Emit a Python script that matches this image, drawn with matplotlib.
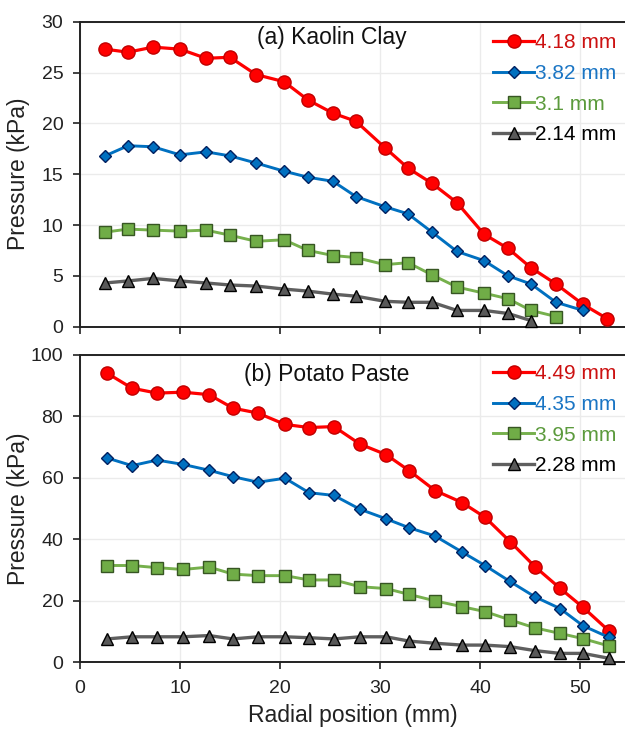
import matplotlib
matplotlib.use("Agg")
import matplotlib.pyplot as plt

plt.rcParams['font.family'] = ['Liberation Sans', 'DejaVu Sans']

# ---- (a) Kaolin clay ----
x_a = [2.5, 4.8, 7.3, 10.0, 12.6, 15.0, 17.6, 20.4, 22.8, 25.3, 27.6,
       30.5, 32.8, 35.2, 37.7, 40.4, 42.8, 45.1, 47.6, 50.3, 52.7]
kaolin_418 = [27.3, 27.0, 27.5, 27.3, 26.4, 26.5, 24.8, 24.1, 22.3, 21.0, 20.2,
              17.6, 15.6, 14.1, 12.2, 9.1, 7.7, 5.8, 4.2, 2.2, 0.8]
kaolin_382 = [16.8, 17.8, 17.7, 16.9, 17.2, 16.8, 16.1, 15.3, 14.7, 14.3, 12.8,
              11.8, 11.1, 9.3, 7.4, 6.5, 5.0, 4.2, 2.4, 1.6]
kaolin_310 = [9.3, 9.6, 9.5, 9.4, 9.5, 9.0, 8.4, 8.55, 7.5, 7.0, 6.8,
              6.1, 6.3, 5.1, 3.9, 3.3, 2.75, 1.6, 1.0]
kaolin_214 = [4.3, 4.5, 4.75, 4.5, 4.3, 4.1, 4.0, 3.7, 3.5, 3.2, 3.0,
              2.5, 2.4, 2.4, 1.6, 1.6, 1.3, 0.6]
labels_a = ['4.18 mm', '3.82 mm', '3.1 mm', '2.14 mm']

# ---- (b) Potato paste ----
x_b = [2.7, 5.2, 7.7, 10.3, 12.9, 15.3, 17.8, 20.5, 22.9, 25.4, 28.0,
       30.6, 32.9, 35.5, 38.2, 40.5, 43.0, 45.5, 48.0, 50.3, 52.9]
potato_449 = [94.1, 89.2, 87.6, 87.9, 87.1, 82.7, 81.1, 77.4, 76.4, 76.7, 71.0,
              67.6, 62.4, 55.9, 52.0, 47.2, 39.3, 31.1, 24.1, 17.9, 10.2]
potato_435 = [66.5, 64.0, 65.8, 64.4, 62.5, 60.4, 58.6, 59.9, 55.2, 54.3, 49.8,
              46.7, 43.8, 41.1, 35.9, 31.5, 26.3, 21.3, 17.5, 11.9, 8.1]
potato_395 = [31.5, 31.5, 30.8, 30.2, 31.0, 28.7, 28.2, 28.2, 26.8, 26.8, 24.6,
              24.0, 22.1, 20.0, 18.1, 16.5, 13.8, 11.2, 9.4, 7.7, 5.3]
potato_228 = [7.6, 8.3, 8.3, 8.3, 8.7, 7.6, 8.3, 8.3, 8.0, 7.6, 8.3,
              8.3, 6.9, 6.2, 5.6, 5.6, 5.1, 3.8, 2.9, 2.9, 1.3]
labels_b = ['4.49 mm', '4.35 mm', '3.95 mm', '2.28 mm']

# line colour, marker, size, face, edge, lw, legend text colour
styles = [
    ('#ff0000', 'o', 9.5, '#ff0000', '#c00000', 2.3, '#cc1111'),
    ('#0070c0', 'D', 6.3, '#0070c0', '#002060', 2.1, '#1a75c4'),
    ('#76b04c', 's', 8.5, '#70ad47', '#375623', 2.1, '#5b9a3c'),
    ('#5f5f5f', '^', 9.0, '#595959', '#000000', 2.4, '#000000'),
]

W, H = 625, 732
fig = plt.figure(figsize=(W / 100, H / 100), dpi=100)


def px_axes(left, top, right, bottom):
    return fig.add_axes([left / W, 1 - bottom / H, (right - left) / W, (bottom - top) / H])


def setup(ax, ymax, ystep, show_xlabels):
    ax.set_xlim(0, 54.5)
    ax.set_ylim(0, ymax)
    ax.set_xticks(range(0, 60, 10))
    ax.set_yticks(range(0, ymax + 1, ystep))
    ax.grid(True, color='#ebebeb', lw=1.0)
    ax.set_axisbelow(True)
    ax.spines['right'].set_visible(False)
    for s in ['left', 'bottom', 'top']:
        ax.spines[s].set_linewidth(1.4)
        ax.spines[s].set_color('#222222')
    ax.tick_params(direction='out', length=5, width=1.2, labelsize=14,
                   colors='#222222', pad=8)
    ax.tick_params(axis='y', pad=7)
    if not show_xlabels:
        ax.tick_params(axis='x', labelbottom=False)
    ax.set_ylabel('Pressure (kPa)', fontsize=16.5, color='#222222')
    ax.yaxis.set_label_coords(-0.092, 0.5)


def draw(ax, x, series, labels, title, title_xy, leg_anchor):
    handles = []
    for ys, lab, st in zip(series, labels, styles):
        lc, mk, ms, fc, ec, lw, _ = st
        h, = ax.plot(x[:len(ys)], ys, color=lc, lw=lw, marker=mk, ms=ms,
                     mfc=fc, mec=ec, mew=1.0, label=lab, clip_on=False, zorder=3)
        handles.append(h)
    ax.text(title_xy[0], title_xy[1], title, transform=ax.transAxes,
            fontsize=16.5, ha='left', va='center', color='#111111')
    leg = ax.legend(handles=handles, loc='upper right', bbox_to_anchor=leg_anchor,
                    frameon=False, fontsize=15, handlelength=2.0, handletextpad=0.05,
                    labelspacing=0.56, borderpad=0, borderaxespad=0)
    for t, st in zip(leg.get_texts(), styles):
        t.set_color(st[6])


ax1 = px_axes(80, 21.7, 625, 326.7)
setup(ax1, 30, 5, False)
draw(ax1, x_a, [kaolin_418, kaolin_382, kaolin_310, kaolin_214], labels_a,
     '(a) Kaolin Clay', (0.325, 0.947), (0.985, 0.962))

ax2 = px_axes(80, 355, 625, 662.3)
setup(ax2, 100, 20, True)
draw(ax2, x_b, [potato_449, potato_435, potato_395, potato_228], labels_b,
     '(b) Potato Paste', (0.301, 0.935), (0.985, 0.97))
ax2.set_xlabel('Radial position (mm)', fontsize=16.5, color='#222222', labelpad=5)

fig.savefig('out.png', dpi=100)
